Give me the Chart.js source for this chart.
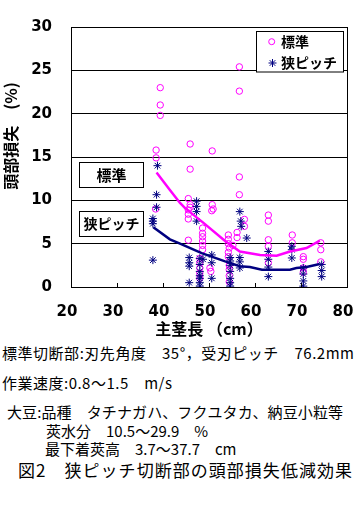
<!DOCTYPE html>
<html><head><meta charset="utf-8">
<script src="https://cdn.jsdelivr.net/npm/chart.js@4"></script>
<style>
html,body{margin:0;padding:0;background:#fff;width:357px;height:511px;overflow:hidden;}
#wrap{position:absolute;left:0;top:0;width:357px;height:340px;}
.t{position:absolute;white-space:pre;font-family:"Noto Sans CJK JP","Noto Sans",sans-serif;color:#000;font-size:15px;line-height:18px;}
</style></head>
<body>
<div id="wrap"><canvas id="c" width="357" height="340"></canvas></div>
<div class="t" data-w="352" style="left:2px;top:344px;">標準切断部:刃先角度　35°，受刃ピッチ　76.2mm</div>
<div class="t" data-w="170" style="left:2px;top:374px;">作業速度:0.8〜1.5　m/s</div>
<div class="t" data-w="336" style="left:7px;top:403px;">大豆:品種　タチナガハ、フクユタカ、納豆小粒等</div>
<div class="t" style="left:46px;top:422px;">莢水分　10.5〜29.9　%</div>
<div class="t" style="left:45px;top:440px;">最下着莢高　3.7〜37.7　cm</div>
<div class="t" data-w="334" style="left:18px;top:460px;font-size:17px;line-height:20px;">図2　狭ピッチ切断部の頭部損失低減効果</div>
<script>
// --- data ---
const xTickValues = [20, 30, 40, 50, 60, 70, 80];
const yTickValues = [0, 5, 10, 15, 20, 25, 30];
const seriesNames = ['標準', '狭ピッチ'];
const xTitle = '主茎長 （cm）';
const yTitle = '頭部損失　(%)';

const stdLength = [39.4,39.4,39.4,38.5,38.5,38.4,45.9,45.9,45.5,45.9,45.9,45.5,45.5,45.5,45.5,50.7,50.7,50.9,50.6,48.6,48.6,48.6,48.6,48.6,48.6,48.0,48.0,48.0,48.0,48.0,50.2,50.4,54.2,54.2,54.2,54.4,54.2,54.2,54.4,54.4,54.4,54.4,55.2,56.1,56.1,56.6,56.6,56.6,56.6,57.7,57.7,62.9,62.9,62.9,62.9,62.9,68.1,68.1,70.5,70.5,70.5,70.5,74.3,74.3,74.3];
const stdLoss   = [23.0,21.0,19.8,15.8,14.9,9.0,16.5,13.6,10.2,9.5,9.2,8.9,8.4,7.85,5.4,15.7,9.5,9.0,8.8,6.8,6.2,5.8,5.3,4.8,4.3,3.3,2.8,2.2,1.6,1.0,2.2,1.8,6.0,5.5,5.0,4.5,4.0,3.5,2.5,2.0,1.3,0.6,4.8,6.3,5.7,25.4,22.6,12.7,10.65,7.8,7.0,8.3,7.6,5.45,4.7,2.8,6.0,5.1,3.5,3.2,2.2,1.7,5.1,4.3,2.9];

const narrowLength = [38.8,38.6,38.6,37.8,37.8,37.8,37.8,47.3,47.3,47.3,47.3,45.7,45.7,45.7,45.7,48.0,48.0,48.0,48.0,48.0,48.0,48.0,48.7,50.6,50.6,50.6,54.6,54.6,54.6,54.6,54.6,54.6,54.6,56.7,56.9,57.0,58.2,56.7,56.7,56.7,62.9,62.9,62.9,62.9,68.0,68.0,68.0,70.5,70.5,70.5,70.5,74.5,74.5,74.5];
const narrowLoss   = [14.0,10.65,9.2,7.9,7.6,7.3,3.1,9.9,9.3,8.7,7.6,3.4,2.8,2.4,0.5,3.3,2.6,1.8,1.3,1.0,0.5,0.1,3.2,3.7,2.8,1.0,3.4,3.0,2.5,1.8,1.0,0.5,0.1,8.7,7.6,7.0,5.65,3.4,2.9,2.2,4.1,3.2,2.3,1.2,4.7,4.3,3.35,2.2,1.5,0.7,0.1,2.6,1.9,1.2];

const stdTrendX = [38.6,41.5,43.7,44.8,48.8,53.5,56.7,61.1,64.7,67.6,71.2,74.1];
const stdTrendY = [13.2,11.2,9.7,9.1,7.4,5.3,4.1,3.7,3.6,4.1,4.5,5.35];
const narrowTrendX = [37.9,41.5,43.7,48.4,53.5,56.7,58.9,61.5,67.6,69.0,71.2,74.1];
const narrowTrendY = [6.9,5.5,5.0,3.9,2.95,2.4,2.3,2.0,2.0,2.2,2.3,2.65];

const PINK = '#FF00FF';
const NAVY = '#000080';
const zip = (xs, ys) => xs.map((x, i) => ({x: x, y: ys[i]}));

document.querySelectorAll('.t[data-w]').forEach(el => {
  const target = +el.dataset.w;
  const n = [...el.textContent].length;
  const w = el.getBoundingClientRect().width;
  el.style.letterSpacing = ((target - w) / (n - 1)) + 'px';
});

const decor = {
  id: 'decor',
  afterDraw(chart) {
    const ctx = chart.ctx;
    const a = chart.chartArea;
    const xs = chart.scales.x;
    ctx.save();
    ctx.strokeStyle = '#000';
    ctx.lineWidth = 1;
    ctx.strokeRect(Math.round(a.left) + 0.5, Math.round(a.top) + 0.5, Math.round(a.right - a.left), Math.round(a.bottom - a.top));
    ctx.beginPath();
    xTickValues.slice(1, -1).forEach(v => {
      const px = Math.round(xs.getPixelForValue(v)) + 0.5;
      ctx.moveTo(px, a.bottom);
      ctx.lineTo(px, a.bottom - 4);
    });
    ctx.stroke();
    ctx.save();
    ctx.translate(11, 136);
    ctx.rotate(-Math.PI / 2);
    ctx.font = 'bold 16px "Noto Sans CJK JP"';
    ctx.fillStyle = '#000';
    ctx.textAlign = 'center';
    ctx.textBaseline = 'middle';
    ctx.fillText(yTitle, 0, 0);
    ctx.restore();
    ctx.fillStyle = '#fff';
    ctx.fillRect(256.5, 31.5, 87, 40.5);
    ctx.strokeRect(256.5, 31.5, 87, 40.5);
    ctx.font = 'bold 14px "Noto Sans CJK JP"';
    ctx.fillStyle = '#000';
    ctx.textAlign = 'left';
    ctx.textBaseline = 'middle';
    ctx.fillText(seriesNames[0], 281, 42);
    ctx.fillText(seriesNames[1], 281, 63);
    ctx.strokeStyle = PINK;
    ctx.beginPath(); ctx.arc(271.7, 41.7, 3, 0, Math.PI * 2); ctx.stroke();
    ctx.strokeStyle = NAVY;
    ctx.beginPath();
    const cx = 272.5, cy = 63, r = 4;
    ctx.moveTo(cx, cy - r); ctx.lineTo(cx, cy + r);
    ctx.moveTo(cx - r, cy); ctx.lineTo(cx + r, cy);
    ctx.moveTo(cx - r * 0.7, cy - r * 0.7); ctx.lineTo(cx + r * 0.7, cy + r * 0.7);
    ctx.moveTo(cx - r * 0.7, cy + r * 0.7); ctx.lineTo(cx + r * 0.7, cy - r * 0.7);
    ctx.stroke();
    ctx.strokeStyle = '#000';
    ctx.fillStyle = '#fff';
    ctx.fillRect(79.5, 162.5, 64, 25); ctx.strokeRect(79.5, 162.5, 64, 25);
    ctx.fillRect(79.5, 211.5, 64, 25); ctx.strokeRect(79.5, 211.5, 64, 25);
    ctx.fillStyle = '#000';
    ctx.textAlign = 'center';
    ctx.font = 'bold 15px "Noto Sans CJK JP"';
    ctx.fillText(seriesNames[0], 111.5, 175);
    ctx.font = 'bold 14px "Noto Sans CJK JP"';
    ctx.fillText(seriesNames[1], 111.5, 224);
    ctx.restore();
  }
};

new Chart(document.getElementById('c'), {
  type: 'scatter',
  data: {
    datasets: [
      { type: 'line', label: seriesNames[0] + ' trend', data: zip(stdTrendX, stdTrendY), borderColor: PINK, borderWidth: 2.5, pointRadius: 0, tension: 0, fill: false },
      { type: 'line', label: seriesNames[1] + ' trend', data: zip(narrowTrendX, narrowTrendY), borderColor: NAVY, borderWidth: 2.5, pointRadius: 0, tension: 0, fill: false },
      { label: seriesNames[1], data: zip(narrowLength, narrowLoss), pointStyle: 'star', radius: 4, borderColor: NAVY, backgroundColor: NAVY, borderWidth: 1 },
      { label: seriesNames[0], data: zip(stdLength, stdLoss), pointStyle: 'circle', radius: 3.2, borderColor: PINK, backgroundColor: 'rgba(0,0,0,0)', borderWidth: 1 }
    ]
  },
  options: {
    responsive: false,
    animation: false,
    events: [],
    layout: { padding: 0 },
    plugins: { legend: { display: false }, tooltip: { enabled: false } },
    scales: {
      x: {
        type: 'linear', min: 20, max: 80,
        afterBuildTicks: s => { s.ticks = xTickValues.map(v => ({value: v})); },
        afterFit: s => { s.height = 53; s.paddingLeft = 0; s.paddingRight = 10; },
        grid: { display: false, drawTicks: false },
        border: { display: true, color: '#000', width: 1 },
        ticks: { color: '#000', font: { family: 'DejaVu Sans', weight: 'bold', size: 15 }, padding: 16, labelOffset: -4, maxRotation: 0 },
        title: { display: true, text: xTitle, color: '#000', font: { family: 'Noto Sans CJK JP', weight: 'bold', size: 16 }, padding: { top: 0, bottom: 1 } }
      },
      y: {
        type: 'linear', min: 0, max: 30,
        afterBuildTicks: s => { s.ticks = yTickValues.map(v => ({value: v})); },
        afterFit: s => { s.width = 71; s.paddingTop = 27; s.paddingBottom = 0; },
        grid: { color: '#000', lineWidth: 1, drawTicks: false },
        border: { display: true, color: '#000', width: 1 },
        ticks: { color: '#000', font: { family: 'DejaVu Sans', weight: 'bold', size: 15 }, padding: 19 }
      }
    }
  },
  plugins: [decor]
});
</script>
</body></html>
